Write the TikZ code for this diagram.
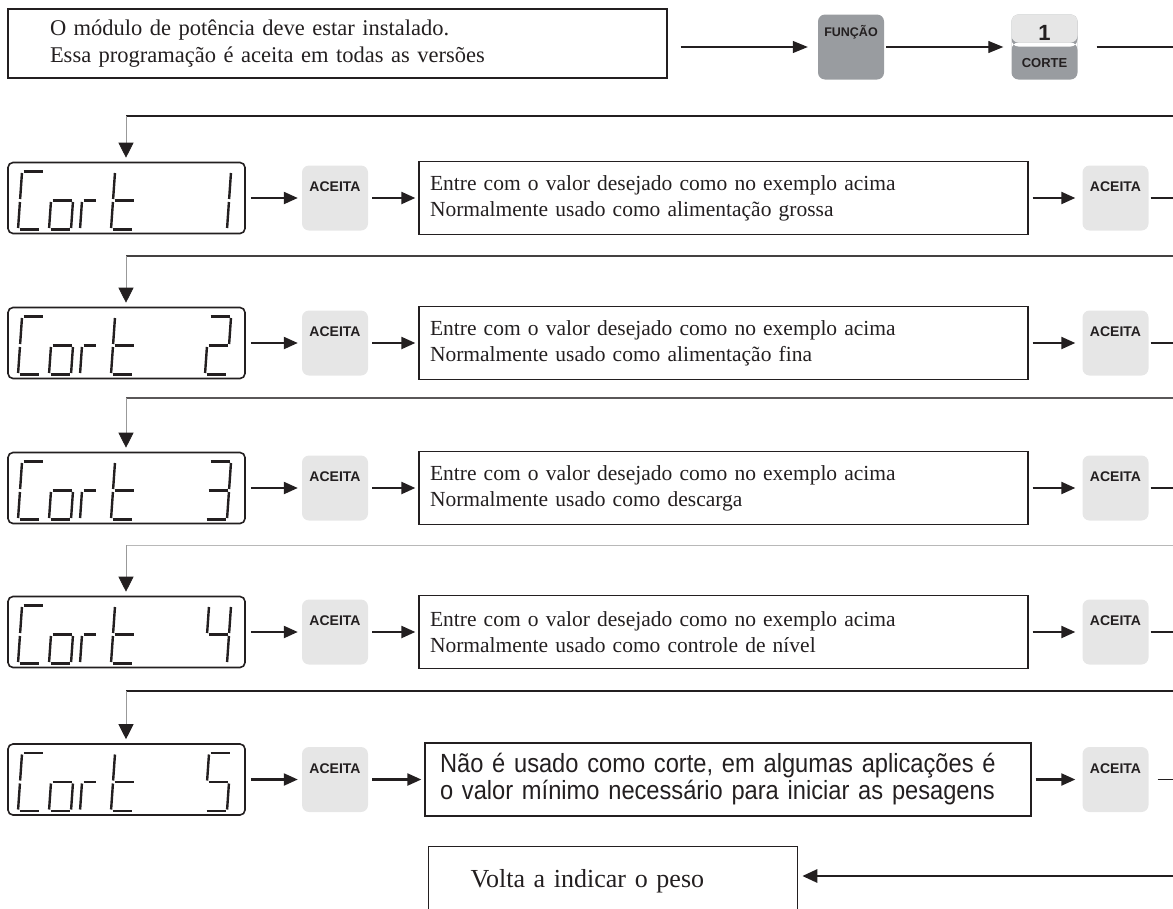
\documentclass[tikz,border=0pt]{standalone}
\usepackage{fontspec}
\setmainfont{Liberation Serif}
\newfontfamily\keyfont{Liberation Sans}
\newfontfamily\narrowfont[FakeStretch=0.9]{Liberation Sans}
\usetikzlibrary{arrows.meta}
\definecolor{ink}{HTML}{231F20}
\definecolor{keylight}{HTML}{E6E6E6}
\definecolor{keydark}{HTML}{999CA0}
\tikzset{
  seg/.style={draw=ink, line width=2.4pt},
  disp/.style={draw=ink, line width=1.6pt, rounded corners=5pt, minimum width=237pt, minimum height=71pt, inner sep=0pt},
  keybox/.style={fill=keylight, rounded corners=7pt, minimum width=66pt, minimum height=65pt, inner sep=0pt,
    font=\keyfont\bfseries\fontsize{14}{14}\selectfont, text=ink, text height=10pt, text depth=23pt},
  rowbox/.style={draw=ink, line width=1.3pt, minimum height=73pt, text width=587pt, inner xsep=11pt, inner ysep=0pt,
    align=left, font=\fontsize{21.5}{26}\selectfont, text=ink},
  arr/.style={draw=ink, line width=2.2pt, -{Triangle[length=14pt,width=12pt]}},
  toparr/.style={draw=ink, line width=1.2pt, -{Triangle[length=15pt,width=12pt]}},
  endline/.style={draw=ink, line width=1.6pt},
  drop/.style={draw=black!40, line width=0.8pt, -{Triangle[length=15pt,width=15pt,color=ink]}, shorten >=4pt},
}
\newcommand\sgA{\draw[seg] (1.5,58) -- (20.5,58);}
\newcommand\sgB{\draw[seg] (22,56.5) -- (22,30.5);}
\newcommand\sgC{\draw[seg] (22,27.5) -- (22,1.5);}
\newcommand\sgD{\draw[seg] (1.5,0) -- (20.5,0);}
\newcommand\sgE{\draw[seg] (0,27.5) -- (0,1.5);}
\newcommand\sgF{\draw[seg] (0,56.5) -- (0,30.5);}
\newcommand\sgG{\draw[seg] (1.5,29) -- (20.5,29);}
\newcommand\sgGs{\draw[seg] (1.5,29) -- (14,29);}
\newcommand\segglyph[3]{\begin{scope}[shift={(#1,#2)},y=1pt,xslant=0.07]#3\end{scope}}
\newcommand\cortdisplay[2]{%
  \segglyph{18}{#1}{\sgA\sgD\sgE\sgF}%
  \segglyph{49}{#1}{\sgC\sgD\sgE\sgG}%
  \segglyph{80}{#1}{\sgE\sgGs}%
  \segglyph{111}{#1}{\sgD\sgE\sgF\sgG}%
  \segglyph{205}{#1}{#2}}
\begin{document}
\begin{tikzpicture}[x=1pt,y=-1pt]
\useasboundingbox (0,0) rectangle (1173,908);
\clip (0,0) rectangle (1173,908);
\coordinate (edge) at (1173,0);

% top row
\node[draw=ink, line width=1.3pt, minimum width=659pt, minimum height=69pt, text width=575pt, inner xsep=42pt, inner ysep=0pt,
  align=left, font=\fontsize{22.5}{27}\selectfont, text=ink] (topbox) at (337.5,43.5)
  {O módulo de potência deve estar instalado.\\Essa programação é aceita em todas as versões};
\node[keybox, fill=keydark, font=\keyfont\bfseries\fontsize{12.5}{12.5}\selectfont, text=ink, text height=9pt, text depth=30pt] (func) at (851,47) {FUNÇÃO};
\node[keybox, fill=keydark, path picture={
   \fill[keylight] ([yshift=2pt]path picture bounding box.north west) rectangle ([yshift=-28pt]path picture bounding box.north east);
   \fill[white] ([yshift=-28pt]path picture bounding box.north west) rectangle ([yshift=-32pt]path picture bounding box.north east);}]
  (corte) at (1044.5,47) {};
\node[font=\keyfont\bfseries\fontsize{22}{22}\selectfont, text=ink, inner sep=0pt] (corteone) at ([yshift=14pt]corte.center) {1};
\node[font=\keyfont\bfseries\fontsize{13}{13}\selectfont, text=ink, inner sep=0pt] (cortelbl) at ([yshift=-16pt]corte.center) {CORTE};
\draw[toparr, shorten <=13pt, shorten >=10pt] (topbox.east |- func.west) -- (func.west);
\draw[toparr, shorten <=2pt, shorten >=8pt] (func) -- (corte);
\draw[toparr, -, shorten <=19pt] (corte.east) -- (corte.east -| edge);

% row connector lines
\coordinate (rR1) at (1173,116); \coordinate (rL1) at (126,116);
\coordinate (rR2) at (1173,256); \coordinate (rL2) at (126,256);
\coordinate (rR3) at (1173,398); \coordinate (rL3) at (126,398);
\coordinate (rR4) at (1173,545); \coordinate (rL4) at (126,545);
\coordinate (rR5) at (1173,691); \coordinate (rL5) at (126,691);

% displays
\node[disp] (disp1) at (126.5,198) {};
\node[disp] (disp2) at (126.5,343) {};
\node[disp] (disp3) at (126.5,488) {};
\node[disp] (disp4) at (126.5,632) {};
\node[disp] (disp5) at (126.5,779.5) {};
\cortdisplay{229.5}{\sgB\sgC}
\cortdisplay{374.5}{\sgA\sgB\sgG\sgE\sgD}
\cortdisplay{519.5}{\sgA\sgB\sgG\sgC\sgD}
\cortdisplay{663.5}{\sgF\sgG\sgB\sgC}
\cortdisplay{811}{\sgA\sgF\sgG\sgC\sgD}

\draw[draw=ink, line width=2.8pt] (rR1) -- (rL1);
\draw[draw=ink!85, line width=2pt] (rR2) -- (rL2);
\draw[draw=ink!75, line width=1.5pt] (rR3) -- (rL3);
\draw[draw=black!28, line width=1pt] (rR4) -- (rL4);
\draw[draw=ink, line width=2.8pt] (rR5) -- (rL5);
\foreach \k in {1,...,5} {\draw[drop] (rL\k) -- (rL\k |- disp\k.north);}

% keys and boxes
\node[keybox] (akL1) at (335,198) {ACEITA};
\node[keybox] (akL2) at (335,343) {ACEITA};
\node[keybox] (akL3) at (335,488) {ACEITA};
\node[keybox] (akL4) at (335,632) {ACEITA};
\node[keybox] (akL5) at (335,779.5) {ACEITA};
\node[keybox] (akR1) at (1115.5,198) {ACEITA};
\node[keybox] (akR2) at (1115.5,343) {ACEITA};
\node[keybox] (akR3) at (1115.5,488) {ACEITA};
\node[keybox] (akR4) at (1115.5,632) {ACEITA};
\node[keybox] (akR5) at (1115.5,779.5) {ACEITA};

\node[rowbox] (box1) at (723.5,198) {Entre com o valor desejado como no exemplo acima\\Normalmente usado como alimentação grossa};
\node[rowbox] (box2) at (723.5,343) {Entre com o valor desejado como no exemplo acima\\Normalmente usado como alimentação fina};
\node[rowbox] (box3) at (723.5,488) {Entre com o valor desejado como no exemplo acima\\Normalmente usado como descarga};
\node[rowbox] (box4) at (723.5,632) {Entre com o valor desejado como no exemplo acima\\Normalmente usado como controle de nível};
\node[rowbox, text width=576pt, inner xsep=15pt, font=\narrowfont\fontsize{26.3}{27}\selectfont] (box5) at (728,779.5)
  {Não é usado como corte, em algumas aplicações é\\o valor mínimo necessário para iniciar as pesagens};

\foreach \k in {1,...,5} {
  \draw[arr, shorten <=5pt, shorten >=4pt] (disp\k) -- (akL\k);
  \draw[arr, shorten <=4pt, shorten >=3pt] (akL\k) -- (box\k);
  \draw[arr, shorten <=4pt, shorten >=7pt] (box\k) -- (akR\k);
}
\foreach \k in {1,...,4} {\draw[endline, shorten <=2pt] (akR\k.east) -- (akR\k.east -| edge);}
\draw[endline, line width=1.2pt, shorten <=9pt] (akR5.east) -- (akR5.east -| edge);

% final box
\node[draw=ink, line width=1.3pt, anchor=north west, text width=285pt, align=left, inner xsep=42pt, inner ysep=0pt,
  text height=41pt, text depth=50pt, font=\fontsize{26}{30}\selectfont, text=ink] (volta) at (428,846)
  {Volta a indicar o peso};
\coordinate (vin) at (1173,876);
\draw[draw=ink, line width=2.8pt, -{Triangle[length=15pt,width=13pt]}, shorten >=4pt] (vin) -- (vin -| volta.east);
\end{tikzpicture}
\end{document}
